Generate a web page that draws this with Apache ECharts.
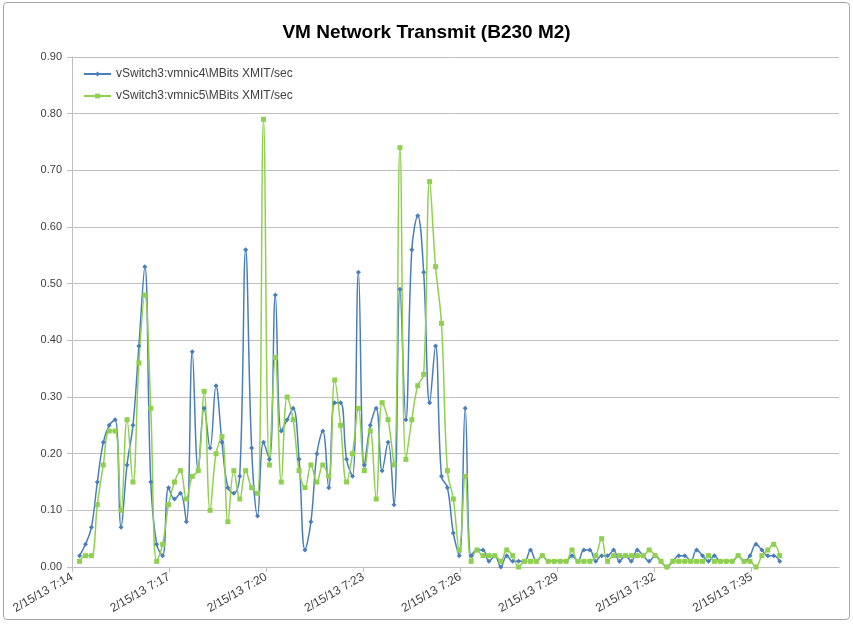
<!DOCTYPE html>
<html>
<head>
<meta charset="utf-8">
<script src="https://cdn.jsdelivr.net/npm/echarts@6/dist/echarts.min.js"></script>
<style>
    html, body { margin: 0; padding: 0; background: #fff; }
    .frame { position: absolute; left: 3px; top: 2px; width: 845px; height: 616px; border: 1.5px solid #a6a6a6; border-radius: 4px; }
    #chart { position: absolute; left: 0; top: 0; width: 853px; height: 624px; }
</style>
</head>
<body>
<div class="frame"></div>
<div id="chart"></div>
<script>
    // tick labels, one every 3 minutes
    let tickLabels = ['2/15/13 7:14', '2/15/13 7:17', '2/15/13 7:20', '2/15/13 7:23',
        '2/15/13 7:26', '2/15/13 7:29', '2/15/13 7:32', '2/15/13 7:35'];

    let seriesNames = ['vSwitch3:vmnic4\\MBits XMIT/sec', 'vSwitch3:vmnic5\\MBits XMIT/sec'];

    // sampling: seconds after 7:14:00 of first sample, and step between samples
    let firstSampleSec = 14;
    let sampleStepSec = 11;

    let vmnic4 = [
        0.02, 0.04, 0.07, 0.15, 0.22, 0.25, 0.26, 0.07, 0.18, 0.25,
        0.39, 0.53, 0.15, 0.04, 0.02, 0.14, 0.12, 0.13, 0.08, 0.38,
        0.17, 0.28, 0.21, 0.32, 0.22, 0.14, 0.13, 0.16, 0.56, 0.21,
        0.09, 0.22, 0.19, 0.48, 0.24, 0.26, 0.28, 0.19, 0.03, 0.08,
        0.20, 0.24, 0.14, 0.29, 0.29, 0.19, 0.16, 0.52, 0.18, 0.25,
        0.28, 0.17, 0.22, 0.11, 0.49, 0.26, 0.56, 0.62, 0.52, 0.29,
        0.39, 0.16, 0.14, 0.06, 0.02, 0.28, 0.02, 0.03, 0.03, 0.01,
        0.02, 0.00, 0.02, 0.01, 0.01, 0.01, 0.03, 0.01, 0.02, 0.01,
        0.01, 0.01, 0.01, 0.02, 0.01, 0.03, 0.03, 0.01, 0.02, 0.02,
        0.03, 0.01, 0.02, 0.01, 0.03, 0.02, 0.01, 0.02, 0.01, 0.00,
        0.01, 0.02, 0.02, 0.01, 0.03, 0.02, 0.01, 0.02, 0.01, 0.01,
        0.01, 0.02, 0.01, 0.02, 0.04, 0.03, 0.02, 0.02, 0.01
    ];

    let vmnic5 = [
        0.01, 0.02, 0.02, 0.11, 0.18, 0.24, 0.24, 0.10, 0.26, 0.15,
        0.36, 0.48, 0.28, 0.01, 0.04, 0.11, 0.15, 0.17, 0.12, 0.16,
        0.17, 0.31, 0.10, 0.20, 0.23, 0.08, 0.17, 0.12, 0.17, 0.14,
        0.13, 0.79, 0.18, 0.37, 0.15, 0.30, 0.26, 0.17, 0.14, 0.18,
        0.15, 0.18, 0.16, 0.33, 0.25, 0.15, 0.20, 0.28, 0.17, 0.24,
        0.12, 0.29, 0.26, 0.18, 0.74, 0.19, 0.26, 0.32, 0.34, 0.68,
        0.53, 0.43, 0.17, 0.12, 0.03, 0.16, 0.01, 0.03, 0.02, 0.02,
        0.02, 0.01, 0.03, 0.02, 0.00, 0.01, 0.01, 0.01, 0.02, 0.01,
        0.01, 0.01, 0.01, 0.03, 0.01, 0.01, 0.01, 0.02, 0.05, 0.01,
        0.02, 0.02, 0.02, 0.02, 0.02, 0.02, 0.03, 0.02, 0.01, 0.00,
        0.01, 0.01, 0.01, 0.01, 0.01, 0.01, 0.02, 0.01, 0.01, 0.01,
        0.01, 0.02, 0.01, 0.01, 0.00, 0.02, 0.03, 0.04, 0.02
    ];

    function with_times(values) {
        return values.map(function (v, i) {
            return [firstSampleSec + i * sampleStepSec, v];
        });
    }

    let tickValues = tickLabels.map(function (t, i) { return i * 180; });

    let chart = echarts.init(document.getElementById('chart'));
    chart.setOption({
        animation: false,
        title: {
            text: 'VM Network Transmit (B230 M2)',
            left: 'center',
            top: 18,
            textStyle: {
                fontFamily: 'Liberation Sans',
                fontSize: 19,
                fontWeight: 'bold',
                color: '#000'
            }
        },
        legend: {
            orient: 'vertical',
            left: 78,
            top: 63,
            itemWidth: 27,
            itemHeight: 6,
            itemGap: 10,
            data: seriesNames,
            textStyle: {
                fontFamily: 'Liberation Sans',
                fontSize: 12,
                color: '#404040'
            }
        },
        grid: {
            left: 72,
            right: 14,
            top: 57,
            bottom: 57,
            containLabel: false
        },
        xAxis: {
            type: 'value',
            min: 0,
            max: 1422,
            interval: 180,
            axisLine: { lineStyle: { color: '#bfbfbf', width: 1 } },
            axisTick: {
                show: true,
                length: 5,
                customValues: tickValues,
                lineStyle: { color: '#bfbfbf' }
            },
            splitLine: { show: false },
            axisLabel: {
                customValues: tickValues,
                rotate: 30,
                margin: 9,
                fontFamily: 'Liberation Sans',
                fontSize: 12,
                color: '#404040',
                formatter: function (v) {
                    return tickLabels[Math.round(v / 180)];
                }
            }
        },
        yAxis: {
            type: 'value',
            min: 0,
            max: 0.9,
            interval: 0.1,
            axisLine: { show: true, lineStyle: { color: '#bfbfbf', width: 1 } },
            axisTick: { show: true, length: 5, lineStyle: { color: '#bfbfbf' } },
            splitLine: { lineStyle: { color: '#bfbfbf', width: 1 } },
            axisLabel: {
                margin: 10,
                fontFamily: 'Liberation Sans',
                fontSize: 11,
                color: '#404040',
                formatter: function (v) { return v.toFixed(2); }
            }
        },
        series: [
            {
                name: seriesNames[0],
                type: 'line',
                data: with_times(vmnic4),
                smooth: 0.4,
                symbol: 'diamond',
                symbolSize: 5,
                itemStyle: { color: '#4a7ebb' },
                lineStyle: { color: '#4a7ebb', width: 1.5 }
            },
            {
                name: seriesNames[1],
                type: 'line',
                data: with_times(vmnic5),
                smooth: 0.4,
                symbol: 'rect',
                symbolSize: 5,
                itemStyle: { color: '#8fd14f' },
                lineStyle: { color: '#8fd14f', width: 1.5 }
            }
        ]
    });
</script>
</body>
</html>
